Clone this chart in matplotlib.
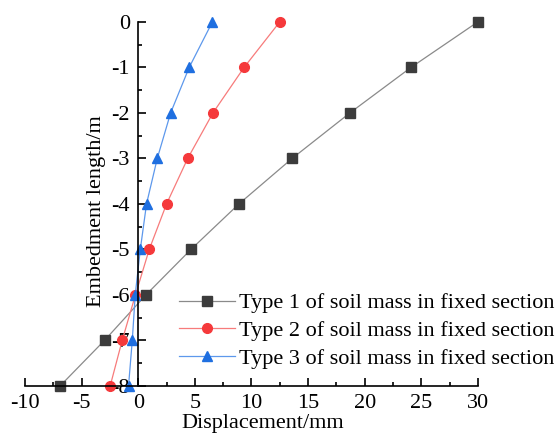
import matplotlib
matplotlib.use('Agg')
import matplotlib.pyplot as plt
from matplotlib.ticker import MultipleLocator

plt.rcParams['font.family'] = ['Liberation Serif', 'DejaVu Serif']
plt.rcParams['axes.unicode_minus'] = False

depth = [0, -1, -2, -3, -4, -5, -6, -7, -8]
type1 = [30.0, 24.1, 18.7, 13.6, 8.9, 4.66, 0.68, -2.98, -6.9]
type2 = [12.5, 9.35, 6.6, 4.37, 2.5, 0.97, -0.25, -1.42, -2.48]
type3 = [6.55, 4.5, 2.86, 1.68, 0.73, 0.18, -0.27, -0.53, -0.86]
labels = ['Type 1 of soil mass in fixed section',
          'Type 2 of soil mass in fixed section',
          'Type 3 of soil mass in fixed section']

fig = plt.figure(figsize=(5.57, 4.37), dpi=100)
ax = fig.add_axes([0.045, 0.117, 0.813, 0.833])

# markers in full colour, connecting lines a bit lighter like the original
ax.plot(type1, depth, color='#8a8a8a', marker='s', ms=6.5, mfc='#3c3c3c', mec='#3c3c3c',
        lw=0.9, label=labels[0], clip_on=False)
ax.plot(type2, depth, color='#f77b7b', marker='o', ms=7, mfc='#f5393b', mec='#f5393b',
        lw=0.9, label=labels[1], clip_on=False)
ax.plot(type3, depth, color='#5d98ec', marker='^', ms=7.5, mfc='#1f6fe0', mec='#1f6fe0',
        lw=0.9, label=labels[2], clip_on=False)

ax.set_xlim(-10, 30)
ax.set_ylim(-8, 0)
ax.spines['left'].set_position(('data', 0))
ax.spines['top'].set_visible(False)
ax.spines['right'].set_visible(False)
ax.spines['left'].set_linewidth(1.2)
ax.spines['bottom'].set_linewidth(1.2)

ax.xaxis.set_major_locator(MultipleLocator(5))
ax.xaxis.set_minor_locator(MultipleLocator(2.5))
ax.yaxis.set_major_locator(MultipleLocator(1))
ax.yaxis.set_minor_locator(MultipleLocator(0.5))
ax.tick_params(which='both', direction='in', labelsize=16, width=1.2)
ax.tick_params(which='major', length=6)
ax.tick_params(which='minor', length=3)
ax.tick_params(axis='x', which='major', pad=6)
ax.tick_params(axis='y', which='major', pad=6)

ax.set_xlabel('Displacement/mm', fontsize=16, va='top')
ax.xaxis.set_label_coords(0.524, -0.076)
ax.set_ylabel('Embedment length/m', fontsize=16, labelpad=4)
ax.yaxis.label.set_y(0.48)

ax.legend(loc='lower right', bbox_to_anchor=(1.175, 0.04), frameon=False,
          fontsize=16, handlelength=2.5, handletextpad=0.2, labelspacing=0.33,
          borderpad=0.1, borderaxespad=0)

fig.savefig('out.png', dpi=100)
